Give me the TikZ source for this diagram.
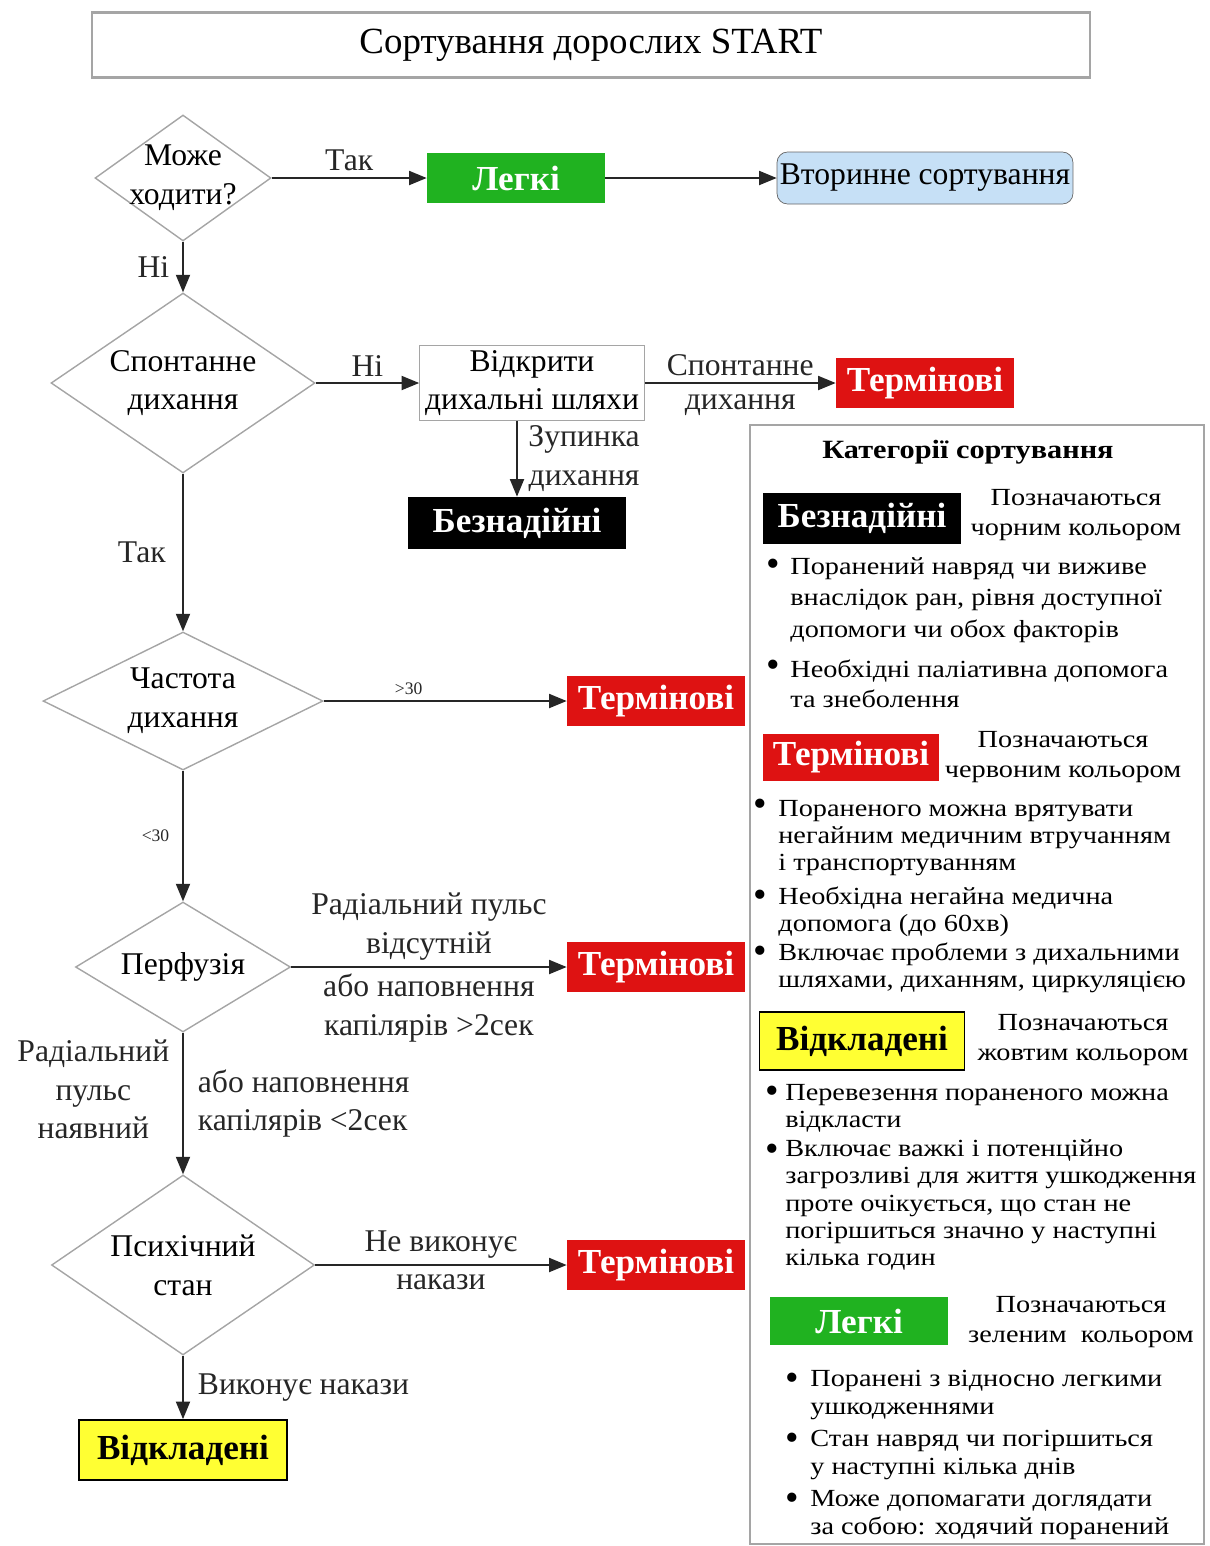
\documentclass[tikz,border=0pt]{standalone}
\usepackage{fontspec}
\setmainfont{Liberation Serif}
\newfontfamily\widefont[FakeStretch=1.15]{Liberation Serif}
\usepackage{tikz}
\usetikzlibrary{shapes,arrows,arrows.meta}
\definecolor{tgreen}{RGB}{32,178,32}
\definecolor{tred}{RGB}{222,18,18}
\definecolor{tyellow}{RGB}{255,255,51}
\definecolor{tblue}{RGB}{198,224,246}
\definecolor{tgray}{RGB}{165,165,165}

\begin{document}
\begin{tikzpicture}[x=0.02cm,y=-0.02cm,
	ask/.style={diamond,draw=tgray,line width=0.8pt,inner xsep=-45pt,inner ysep=-25pt,font=\fontsize{18}{22}\selectfont,align=center},
	tag/.style={inner sep=0pt,font=\fontsize{20}{24}\selectfont\bfseries,minimum width=3.56cm,minimum height=1cm},
	arr/.style={-{Triangle[length=10pt,width=8pt]},line width=1pt,black!85},
	lbl/.style={font=\fontsize{18}{22}\selectfont,align=center},
	small/.style={font=\fontsize{10}{12}\selectfont},
	note/.style={font=\widefont\fontsize{14}{15.5}\selectfont,align=left,anchor=west,inner sep=0pt},
	hint/.style={font=\widefont\fontsize{14}{17}\selectfont,align=center,inner sep=0pt},
	dot/.style={font=\fontsize{22}{22}\selectfont,inner sep=0pt}]
	\useasboundingbox (0,0) rectangle (1210,1546);
	\node[draw=tgray,line width=1.2pt,minimum width=19.96cm,minimum height=1.3cm,font=\fontsize{21}{25}\selectfont] (title) at (591,45) {Сортування дорослих START};

	\node[ask,minimum width=3.52cm,minimum height=2.52cm] (walk) at (183,178) {Може\\ходити?};
	\node[ask,minimum width=5.28cm,minimum height=3.6cm] (breath) at (183,383) {Спонтанне\\дихання};
	\node[ask,minimum width=5.6cm,minimum height=2.76cm] (rate) at (183,701) {Частота\\дихання};
	\node[ask,minimum width=4.3cm,minimum height=2.6cm] (perf) at (183,967) {Перфузія};
	\node[ask,minimum width=5.26cm,minimum height=3.6cm] (mind) at (183,1265) {Психічний\\стан};

	\node[tag,fill=tgreen,text=white] (minor) at (516,178) {Легкі};
	\node[draw=black!60,fill=tblue,rounded corners=6pt,minimum width=5.92cm,minimum height=1.04cm,lbl,inner sep=0pt] (second) at (925,178) {Вторинне сортування};
	\node[draw=tgray,minimum width=4.5cm,minimum height=1.5cm,lbl,inner sep=0pt] (airway) at (532,383) {Відкрити\\дихальні шляхи};
	\node[tag,fill=tred,text=white] (urg1) at (925,383) {Термінові};
	\node[tag,fill=black,text=white,minimum width=4.36cm,minimum height=1.04cm] (hope) at (517,523) {Безнадійні};
	\node[tag,fill=tred,text=white] (urg2) at (656,701) {Термінові};
	\node[tag,fill=tred,text=white] (urg3) at (656,967) {Термінові};
	\node[tag,fill=tred,text=white] (urg4) at (656,1265) {Термінові};
	\node[tag,fill=tyellow,draw=black,line width=1pt,minimum width=4.16cm,minimum height=1.2cm] (later) at (183,1450) {Відкладені};

	\draw[arr] (walk.east) -- (minor.west) node[lbl,midway,above] (l1) {Так};
	\draw[arr] (minor.east) -- (second.west);
	\draw[arr] (walk.south) -- (breath.north) node[lbl,midway,left,xshift=-4pt] (l2) {Ні};
	\draw[arr] (breath.east) -- (airway.west) node[lbl,midway,above] (l3) {Ні};
	\draw[arr] (airway.east) -- (urg1.west) node[lbl,midway,above] (l4) {Спонтанне} node[lbl,midway,below,inner sep=6pt] (l5) {дихання};
	\draw[arr] (airway.south -| hope.north) -- (hope.north) node[lbl,midway,right,inner sep=6pt] (l6) {Зупинка\\дихання};
	\draw[arr] (breath.south) -- (rate.north) node[lbl,midway,left,xshift=-6pt] (l7) {Так};
	\draw[arr] (rate.east) -- (urg2.west) node[small,pos=0.35,above] (l8) {>30};
	\draw[arr] (rate.south) -- (perf.north) node[small,midway,left,xshift=-4pt] (l9) {<30};
	\draw[arr] (perf.east) -- (urg3.west) node[lbl,midway,above] (l10) {Радіальний пульс\\відсутній} node[lbl,midway,below] (l11) {або наповнення\\капілярів >2сек};
	\draw[arr] (perf.south) -- (mind.north) node[lbl,midway,left,xshift=-4pt,yshift=8pt] (l12) {Радіальний\\пульс\\наявний} node[lbl,midway,right,align=left,inner sep=8pt] (l13) {або наповнення\\капілярів <2сек};
	\draw[arr] (mind.east) -- (urg4.west) node[lbl,midway,above] (l14) {Не виконує} node[lbl,midway,below,inner sep=5pt] (l15) {накази};
	\draw[arr] (mind.south) -- (later.north) node[lbl,midway,right,inner sep=8pt] (l16) {Виконує накази};

	\draw[tgray,line width=1.2pt] (750,425) rectangle (1204,1544);
	\node[font=\widefont\fontsize{15}{18}\selectfont\bfseries] (legend) at (968,452) {Категорії сортування};

	\node[tag,fill=black,text=white,minimum width=3.98cm,minimum height=1.02cm] (kHope) at (862,518) {Безнадійні};
	\node[hint] (kHopeTxt) at (1076,515) {Позначаються\\чорним кольором};
	\node[dot] (kHopeD1) at (773,568) {•};
	\node[note,font=\widefont\fontsize{14}{18}\selectfont] (kHopeB1) at (790,600) {Поранений навряд чи виживе\\внаслідок ран, рівня доступної\\допомоги чи обох факторів};
	\node[dot] (kHopeD2) at (773,669) {•};
	\node[note,font=\widefont\fontsize{14}{17}\selectfont] (kHopeB2) at (790,684) {Необхідні паліативна допомога\\та знеболення};

	\node[tag,fill=tred,text=white,minimum width=3.54cm,minimum height=0.94cm] (kUrg) at (851,757) {Термінові};
	\node[hint] (kUrgTxt) at (1063,757) {Позначаються\\червоним кольором};
	\node[dot] (kUrgD1) at (760,808) {•};
	\node[note] (kUrgB1) at (778,838) {Пораненого можна врятувати\\негайним медичним втручанням\\і транспортуванням};
	\node[dot] (kUrgD2) at (760,899) {•};
	\node[note] (kUrgB2) at (778,912) {Необхідна негайна медична\\допомога (до 60хв)};
	\node[dot] (kUrgD3) at (760,955) {•};
	\node[note] (kUrgB3) at (778,968) {Включає проблеми з дихальними\\шляхами, диханням, циркуляцією};

	\node[tag,fill=tyellow,draw=black,line width=1pt,minimum width=4.1cm,minimum height=1.16cm] (kLater) at (862,1041) {Відкладені};
	\node[hint] (kLaterTxt) at (1083,1040) {Позначаються\\жовтим кольором};
	\node[dot] (kLaterD1) at (772,1095) {•};
	\node[note] (kLaterB1) at (785,1108) {Перевезення пораненого можна\\відкласти};
	\node[dot] (kLaterD2) at (772,1153) {•};
	\node[note] (kLaterB2) at (785,1205) {Включає важкі і потенційно\\загрозливі для життя ушкодження\\проте очікується, що стан не\\погіршиться значно у наступні\\кілька годин};

	\node[tag,fill=tgreen,text=white,minimum width=3.56cm,minimum height=0.96cm] (kMinor) at (859,1321) {Легкі};
	\node[hint] (kMinorTxt) at (1081,1322) {Позначаються\\зеленим\ \ кольором};
	\node[dot] (kMinorD1) at (792,1382) {•};
	\node[note] (kMinorB1) at (810,1395) {Поранені з відносно легкими\\ушкодженнями};
	\node[dot] (kMinorD2) at (792,1442) {•};
	\node[note] (kMinorB2) at (810,1455) {Стан навряд чи погіршиться\\у наступні кілька днів};
	\node[dot] (kMinorD3) at (792,1502) {•};
	\node[note] (kMinorB3) at (810,1515) {Може допомагати доглядати\\за собою: ходячий поранений};
\end{tikzpicture}
\end{document}
